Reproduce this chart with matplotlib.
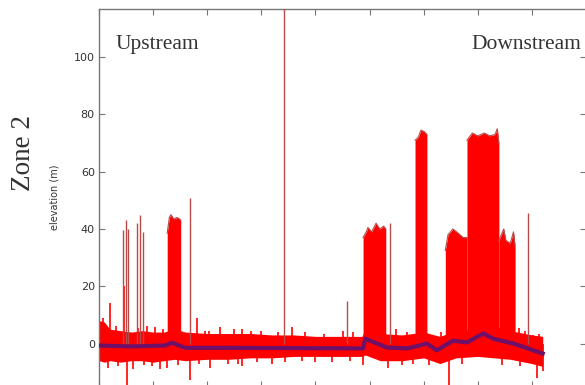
import matplotlib
matplotlib.use("Agg")
import matplotlib.pyplot as plt
import numpy as np

# ---- data (distance in km, elevation in m) ----
# median (purple) profile
med_x = [0.0, 3.0, 6.1, 6.75, 7.95, 12.0, 18.0, 24.4, 24.6, 26.6, 28.5, 30.3, 31.2, 32.7, 34.0, 35.5, 36.4, 38.3, 41.0]
med_y = [-0.7, -1.0, -0.7, 0.3, -1.5, -1.5, -1.6, -1.7, 1.7, -1.4, -1.7, 0.0, -2.4, 1.0, 0.4, 3.5, 1.7, 0.0, -3.5]

# noise band envelope of the raw (red) profile
band_x  = [0.0, 0.5, 1.0, 2.0, 3.0, 4.0, 5.0, 6.0, 7.0, 8.0, 10.0, 12.0, 14.0, 16.0, 18.0, 20.0, 22.0, 24.3,
           24.6, 26.0, 28.0, 30.0, 31.5, 33.0, 35.0, 36.5, 38.0, 40.0, 41.0]
band_hi = [8.0, 7.5, 5.0, 4.5, 4.0, 4.5, 4.0, 4.0, 5.0, 4.0, 3.5, 3.5, 3.5, 3.0, 3.0, 2.5, 2.5, 2.5,
           5.0, 3.5, 3.0, 4.0, 2.5, 4.5, 5.0, 6.0, 4.5, 3.0, 2.5]
band_lo = [-6.0, -6.5, -6.0, -6.5, -6.0, -6.0, -6.5, -6.0, -5.5, -6.0, -5.5, -5.5, -5.0, -5.0, -4.5, -4.5, -4.5, -4.5,
           -4.0, -6.0, -6.0, -5.0, -7.0, -5.0, -4.5, -5.0, -5.5, -7.0, -8.0]

# small noise spikes: position, tip value
noise_x = [1.0, 2.3, 5.2, 5.9, 9.1, 10.2, 11.2, 13.2, 14.0, 17.8, 22.5, 26.1, 28.5, 29.5, 34.4, 40.1, 40.7,
           2.6, 3.1, 4.9, 6.3, 8.4, 10.3, 11.9, 13.2, 16.0, 24.4, 26.7, 32.3, 40.5, 20.0, 30.5,
           0.4, 1.6, 3.6, 4.4, 7.0, 9.8, 12.5, 15.0, 16.5, 19.0, 20.8, 23.5, 27.4, 31.6, 38.8, 39.4,
           0.8, 1.8, 4.2, 5.6, 7.3, 9.2, 12.8, 14.6, 17.2, 18.8, 21.5, 23.2, 28.0, 29.0, 33.5, 37.2, 38.9, 41.0]
noise_y = [14.0, 20.0, 5.6, 5.0, 9.0, 4.5, 5.6, 5.0, 4.5, 5.6, 4.5, 7.0, 4.0, 3.5, 4.5, 3.0, 3.5,
           -14.5, -9.0, -8.0, -8.5, -12.8, -8.5, -7.0, -8.0, -7.0, -7.5, -8.5, -14.5, -12.0, -6.5, -7.5,
           9.0, 6.0, 5.5, 6.0, 6.5, 4.5, 5.0, 4.5, 4.0, 4.0, 3.5, 4.0, 5.0, 4.0, 5.5, 4.5,
           -8.5, -8.0, -7.5, -9.0, -7.5, -7.0, -7.0, -6.5, -6.5, -6.0, -6.5, -6.0, -7.5, -7.0, -7.0, -7.5, -8.0, -9.5]

# tall isolated spikes
spike_x = [2.25, 2.5, 2.65, 3.5, 3.8, 4.1, 8.4, 17.1, 22.9, 26.9, 39.65]
spike_y = [39.5, 43.0, 40.0, 42.0, 45.0, 39.0, 50.7, 150.0, 15.0, 42.0, 45.5]

# dense blocks of spikes: list of (x, top) outlines
block_a_x = [6.3, 6.5, 6.65, 6.9, 7.2, 7.45, 7.55]
block_a_y = [38.5, 44.0, 45.0, 43.5, 44.0, 43.5, 43.0]
block_b_x = [24.4, 24.7, 24.85, 25.2, 25.6, 25.95, 26.3, 26.5]
block_b_y = [37.0, 39.0, 40.5, 39.0, 42.0, 40.0, 41.0, 40.0]
block_c_x = [29.2, 29.5, 29.75, 30.05, 30.3]
block_c_y = [71.0, 72.0, 74.5, 74.0, 73.0]
block_d_x = [32.0, 32.25, 32.7, 33.2, 33.65, 34.0]
block_d_y = [32.5, 38.0, 40.0, 38.5, 37.0, 37.0]
block_e_x = [34.0, 34.5, 35.0, 35.6, 36.1, 36.6, 36.8, 36.95]
block_e_y = [71.0, 73.5, 72.5, 73.5, 72.5, 73.0, 75.0, 70.0]
block_f_x = [36.95, 37.4, 37.6, 38.0, 38.3, 38.45]
block_f_y = [36.0, 40.0, 36.0, 35.0, 39.0, 34.0]

x_ticks = [0, 5, 10, 15, 20, 25, 30, 35, 40, 45]
y_ticks = [0, 20, 40, 60, 80, 100]

RED = "#ff0000"
DARK = "#b84a4a"
PURPLE = "#6e1068"

fig = plt.figure(figsize=(5.85, 3.85), dpi=100)
ax = fig.add_axes([99 / 585, -1.5 / 385, 487 / 585, 377.5 / 385])

ax.fill_between(band_x, band_lo, band_hi, color=RED, lw=0, zorder=2)
ax.vlines(noise_x, 0, noise_y, color=RED, lw=1.2, zorder=2)
ax.vlines(spike_x, 0, spike_y, color=DARK, lw=1.0, zorder=3)
for bx, by in [(block_a_x, block_a_y), (block_b_x, block_b_y), (block_c_x, block_c_y),
               (block_d_x, block_d_y), (block_e_x, block_e_y), (block_f_x, block_f_y)]:
    ax.fill_between(bx, 0, by, color=RED, lw=0, zorder=3)
    ax.plot(bx, by, color=DARK, lw=0.8, zorder=3)
ax.plot(med_x, med_y, color=PURPLE, lw=3.0, zorder=4)

ax.set_xlim(0, 45)
ax.set_ylim(-15, 116.8)
ax.set_xticks(x_ticks)
ax.set_yticks(y_ticks)
ax.set_xticklabels([])
ax.tick_params(direction="in", length=4, width=0.8, color="#777777",
               top=True, right=True, labelsize=8, labelcolor="#333333", pad=3)
for s in ax.spines.values():
    s.set_color("#777777")
    s.set_linewidth(1.0)

ax.set_ylabel("elevation (m)", fontsize=7, color="#333333", labelpad=10)
ax.text(0.035, 0.895, "Upstream", transform=ax.transAxes, fontsize=15.5,
        family="Liberation Serif", color="#333333")
ax.text(0.99, 0.895, "Downstream", transform=ax.transAxes, fontsize=15.5,
        family="Liberation Serif", color="#333333", ha="right")
fig.text(23 / 585, 1 - 153 / 385, "Zone 2", rotation=90, fontsize=19.5,
         family="Liberation Serif", color="#333333", ha="center", va="center")

fig.savefig("out.png", dpi=100)
